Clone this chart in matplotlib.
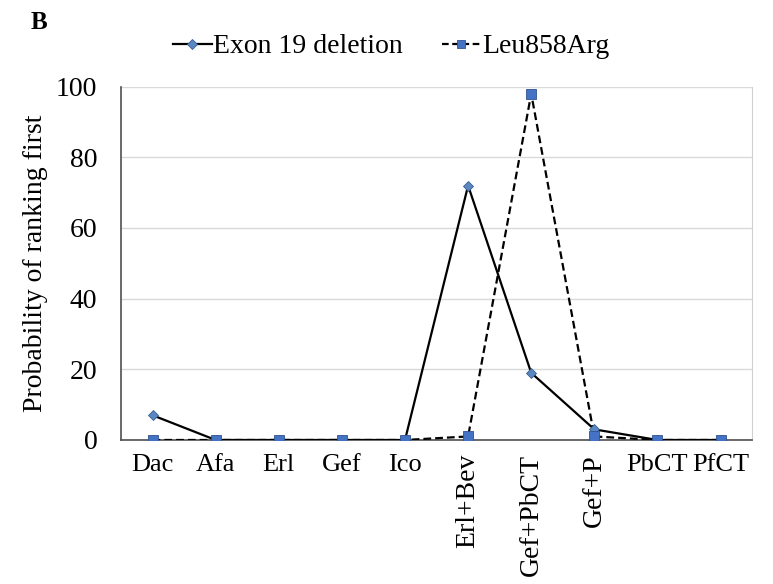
import matplotlib.pyplot as plt
from matplotlib.lines import Line2D

plt.rcParams['font.family'] = ['Liberation Serif', 'DejaVu Serif']

# data
treatments = ['Dac', 'Afa', 'Erl', 'Gef', 'Ico', 'Erl+Bev', 'Gef+PbCT', 'Gef+P', 'PbCT', 'PfCT']
rotated = ['Erl+Bev', 'Gef+PbCT', 'Gef+P']
exon19 = [7, 0, 0, 0, 0, 72, 19, 3, 0, 0]
leu858 = [0, 0, 0, 0, 0, 1, 98, 1, 0, 0]
yticks = [0, 20, 40, 60, 80, 100]

diamond_col = '#5B87C2'
square_col = '#4472C4'

fig = plt.figure(figsize=(7.73, 5.84), dpi=100)
ax = fig.add_axes([0.1565, 0.2466, 0.8165, 0.605])

x = list(range(len(treatments)))

# dashed series line sits under the solid one, squares sit on top of all
ax.plot(x, leu858, color='black', lw=1.6, ls=(0, (3.5, 1.8)), zorder=3)
ax.plot(x, exon19, color='black', lw=1.6, zorder=4)
ax.plot(x, exon19, ls='none', marker='D', ms=5.5, mfc=diamond_col,
        mec='#3A5F8F', mew=0.6, zorder=5)
ax.plot(x, leu858, ls='none', marker='s', ms=7.5, mfc=square_col,
        mec='#2F528F', mew=0.6, zorder=6)

ax.set_xlim(-0.5, len(treatments) - 0.5)
ax.set_ylim(0, 100)
ax.set_yticks(yticks)
ax.yaxis.grid(True, color='#D9D9D9', lw=1)
ax.set_axisbelow(True)

ax.set_xticks(x)
ax.set_xticklabels(treatments, fontsize=19)
for lab in ax.get_xticklabels():
    if lab.get_text() in rotated:
        lab.set_rotation(90)
        lab.set_fontsize(20)
    lab.set_va('top')
ax.tick_params(axis='x', length=0, pad=10)
ax.tick_params(axis='y', length=0, pad=17, labelsize=20)

ax.set_ylabel('Probability of ranking first', fontsize=20, labelpad=6)

ax.spines['top'].set_visible(False)
ax.spines['right'].set_color('#D0D0D0')
ax.spines['left'].set_color('#505050')
ax.spines['bottom'].set_color('#505050')
ax.spines['left'].set_linewidth(1.2)
ax.spines['bottom'].set_linewidth(1.2)

handles = [
    Line2D([], [], color='black', lw=1.6, marker='D', ms=5, mfc=diamond_col,
           mec='#3A5F8F', mew=0.6),
    Line2D([], [], color='black', lw=1.6, ls=(0, (3, 1.6)), marker='s', ms=6,
           mfc=square_col, mec='#2F528F', mew=0.6),
]
fig.legend(handles, ['Exon 19 deletion', 'Leu858Arg'], loc='center',
           bbox_to_anchor=(0.506, 0.92), ncol=2, frameon=False, fontsize=20,
           handlelength=1.4, handletextpad=0.05, columnspacing=1.4)

fig.text(0.039, 0.962, 'B', fontsize=18, fontweight='bold', va='center')

fig.savefig('out.png', dpi=100)
